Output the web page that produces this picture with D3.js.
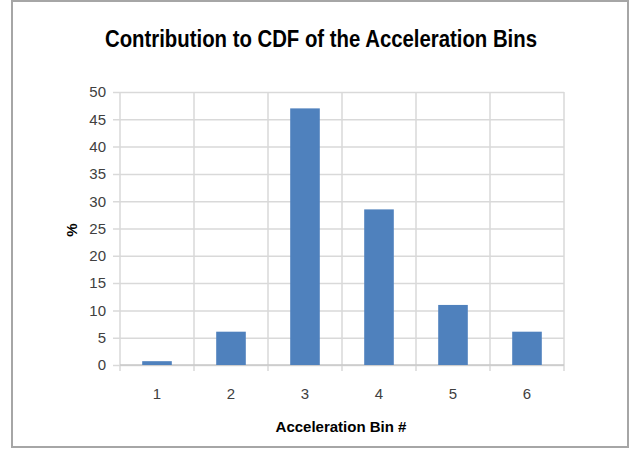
<!DOCTYPE html>
<html>
<head>
<meta charset="utf-8">
<script src="https://cdn.jsdelivr.net/npm/d3@7"></script>
<style>
  body { margin: 0; background: #fff; }
  svg { display: block; }
</style>
</head>
<body>
<svg id="chart"></svg>
<script>
// chart data
const bins = ["1", "2", "3", "4", "5", "6"];
const percents = [0.7, 6.1, 47, 28.5, 11, 6.1];
const yTicks = [0, 5, 10, 15, 20, 25, 30, 35, 40, 45, 50];

const width = 632, height = 450;
const margin = { left: 120, right: 68, top: 92, bottom: 85 };
const font = "'Liberation Sans', sans-serif";

const svg = d3.select("#chart")
    .attr("width", width)
    .attr("height", height);

// outer frame
svg.append("rect")
    .attr("x", 12).attr("y", 1)
    .attr("width", 616).attr("height", 446)
    .attr("fill", "#fff")
    .attr("stroke", "#a6a6a6")
    .attr("stroke-width", 2);

let x = d3.scaleBand()
    .domain(bins)
    .range([margin.left, width - margin.right])
    .paddingInner(0.6)
    .paddingOuter(0.3);

let y = d3.scaleLinear()
    .domain([0, 50])
    .range([height - margin.bottom, margin.top]);

const x0 = margin.left, x1 = width - margin.right;
const step = x.step();

// horizontal gridlines + y axis labels
let yAxis = g => g
    .attr("transform", `translate(${x0}, 0)`)
    .call(d3.axisLeft(y).tickValues(yTicks).tickSize(-(x1 - x0)).tickPadding(14))
    .call(g => g.select(".domain").remove())
    .call(g => g.selectAll(".tick line")
        .attr("x2", x1 - x0)
        .attr("x1", -7)
        .attr("stroke", "#d9d9d9")
        .attr("stroke-width", 1.5))
    .call(g => g.selectAll(".tick text")
        .attr("fill", "#404040")
        .style("font-family", font)
        .style("font-size", "15px"));

svg.append("g").call(yAxis);

// vertical gridlines at category boundaries
let bounds = d3.range(bins.length + 1).map(i => x0 + i * step);
svg.append("g")
    .selectAll("line")
    .data(bounds)
    .enter()
    .append("line")
    .attr("x1", d => d).attr("x2", d => d)
    .attr("y1", y(50)).attr("y2", y(0) + 6)
    .attr("stroke", "#d9d9d9")
    .attr("stroke-width", 1.5);

// x axis line
svg.append("line")
    .attr("x1", x0).attr("x2", x1)
    .attr("y1", y(0)).attr("y2", y(0))
    .attr("stroke", "#c8c8c8")
    .attr("stroke-width", 1.5);

// bars
svg.append("g")
    .selectAll("rect")
    .data(bins)
    .enter()
    .append("rect")
    .attr("x", d => x(d))
    .attr("width", x.bandwidth())
    .attr("y", (d, i) => y(percents[i]))
    .attr("height", (d, i) => y(0) - y(percents[i]))
    .attr("fill", "#4f81bd");

// x tick labels
svg.append("g")
    .selectAll("text")
    .data(bins)
    .enter()
    .append("text")
    .attr("x", d => x(d) + x.bandwidth() / 2)
    .attr("y", y(0) + 34)
    .attr("text-anchor", "middle")
    .attr("fill", "#404040")
    .style("font-family", font)
    .style("font-size", "15px")
    .text(d => d);

// title (condensed to the reference width)
svg.append("text")
    .attr("x", 321)
    .attr("y", 47)
    .attr("text-anchor", "middle")
    .attr("textLength", 432)
    .attr("lengthAdjust", "spacingAndGlyphs")
    .style("font-family", font)
    .style("font-weight", "bold")
    .style("font-size", "23px")
    .attr("fill", "#000")
    .text("Contribution to CDF of the Acceleration Bins");

// axis titles
svg.append("text")
    .attr("x", 341)
    .attr("y", 432)
    .attr("text-anchor", "middle")
    .style("font-family", font)
    .style("font-weight", "bold")
    .style("font-size", "15px")
    .attr("fill", "#000")
    .text("Acceleration Bin #");

svg.append("text")
    .attr("transform", "translate(77, 230) rotate(-90)")
    .attr("text-anchor", "middle")
    .style("font-family", font)
    .style("font-weight", "bold")
    .style("font-size", "15px")
    .attr("fill", "#000")
    .text("%");
</script>
</body>
</html>
